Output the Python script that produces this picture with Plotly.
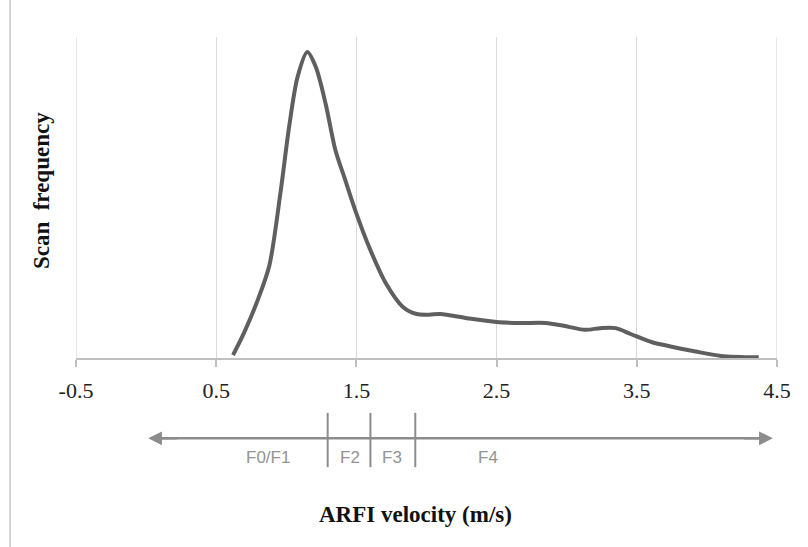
import plotly.graph_objects as go

velocity = [0.62, 0.70, 0.80, 0.88, 0.96, 1.02, 1.08, 1.15, 1.21, 1.28, 1.35, 1.42,
            1.50, 1.60, 1.71, 1.83, 1.93, 2.02, 2.10, 2.29, 2.50, 2.67, 2.85, 2.97, 3.13,
            3.24, 3.35, 3.46, 3.61, 3.74, 3.92, 4.10, 4.37]
frequency = [0.9, 8, 18.5, 29, 52, 72, 87.5, 95.3, 90.7, 79.3, 64.8, 55.5,
             45, 33.6, 23.3, 16, 13.7, 13.5, 13.7, 12.4, 11.2, 10.9, 10.9, 10.1, 8.8,
             9.3, 9.3, 7.4, 4.9, 3.6, 2.0, 0.65, 0.2]
tick_vals = [-0.5, 0.5, 1.5, 2.5, 3.5, 4.5]
tick_text = ["-0.5", "0.5", "1.5", "2.5", "3.5", "4.5"]
stage_cutoffs = [1.295, 1.6, 1.92]
stage_labels = ["F0/F1", "F2", "F3", "F4"]
stage_label_x = [0.87, 1.457, 1.755, 2.436]
arrow_range = [0.015, 4.47]

fig = go.Figure()
fig.add_trace(go.Scatter(
    x=velocity, y=frequency, mode="lines",
    line=dict(color="#5f5f5f", width=4, shape="spline", smoothing=0.8),
    showlegend=False, hoverinfo="skip"))

serif = "Liberation Serif, DejaVu Serif, serif"
narrow = "Liberation Sans Narrow, Liberation Sans, Arial, sans-serif"
gray = "#8c8c8c"

# edge gridlines (-0.5 and 4.5)
for gx in [tick_vals[0], tick_vals[-1]]:
    fig.add_shape(type="line", xref="x", yref="paper", x0=gx, x1=gx, y0=0, y1=1,
                  line=dict(color="#d9d9d9", width=1.2), layer="below")

# x-axis stage arrow (double-headed)
arrow_y = -0.25
fig.add_shape(type="line", xref="x", yref="paper",
              x0=arrow_range[0] + 0.08, x1=arrow_range[1] - 0.08, y0=arrow_y, y1=arrow_y,
              line=dict(color=gray, width=2.5))
for xe, d in [(arrow_range[1], -1), (arrow_range[0], 1)]:
    fig.add_annotation(x=xe, y=arrow_y, xref="x", yref="paper",
                       ax=30 * d, ay=0, axref="pixel", ayref="pixel",
                       showarrow=True, arrowhead=2, arrowsize=1.1, arrowwidth=2.5,
                       arrowcolor=gray, text="", standoff=0)
for c in stage_cutoffs:
    fig.add_shape(type="line", xref="x", yref="paper", x0=c, x1=c,
                  y0=-0.171, y1=-0.34, line=dict(color=gray, width=2))
for lab, lx in zip(stage_labels, stage_label_x):
    fig.add_annotation(x=lx, y=-0.31, xref="x", yref="paper", text=lab,
                       showarrow=False, font=dict(family=narrow, size=17, color="#939393"),
                       yanchor="middle")

# axis titles
fig.add_annotation(x=0.4836, y=-0.486, xref="paper", yref="paper",
                   text="<b>ARFI velocity (m/s)</b>", showarrow=False,
                   font=dict(family=serif, size=23, color="#111111"), yanchor="middle")
fig.add_annotation(x=-0.0499, y=0.52, xref="paper", yref="paper",
                   text="<b>Scan  frequency</b>", showarrow=False, textangle=-90,
                   font=dict(family=serif, size=23, color="#111111"),
                   xanchor="center", yanchor="middle")

# left border line
fig.add_shape(type="line", xref="paper", yref="paper", x0=-0.094, x1=-0.094,
              y0=-0.6, y1=1.2, line=dict(color="#c8c8c8", width=1.5))

fig.update_xaxes(range=[-0.5, 4.5], tickvals=tick_vals, ticktext=tick_text,
                 showgrid=True, gridcolor="#d9d9d9", gridwidth=1,
                 showline=True, linecolor="#bfbfbf", linewidth=2,
                 ticks="outside", ticklen=7, tickcolor="#bfbfbf", tickwidth=1.5,
                 tickfont=dict(family=serif, size=22, color="#222222"),
                 ticklabelstandoff=5, zeroline=False)
fig.update_yaxes(range=[0, 100], showgrid=False, showticklabels=False,
                 zeroline=False, showline=False, ticks="")

fig.update_layout(width=808, height=547, autosize=False,
                  margin=dict(l=76, r=31, t=37, b=189),
                  plot_bgcolor="white", paper_bgcolor="white")

fig.write_html("out.html")
